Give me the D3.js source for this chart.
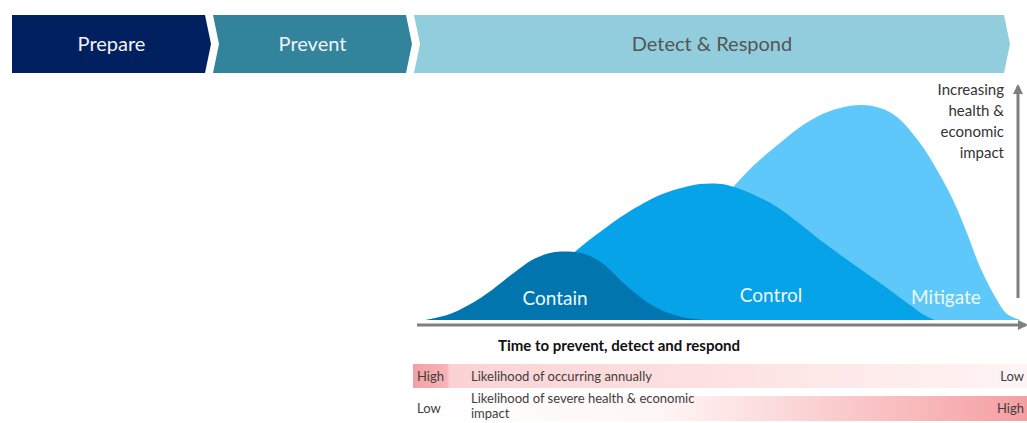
<!DOCTYPE html>
<html>
<head>
<meta charset="utf-8">
<script src="https://cdn.jsdelivr.net/npm/d3@7"></script>
<style>
  body { margin: 0; background: #fff; }
  svg { display: block; font-family: Lato, "Open Sans", sans-serif; }
</style>
</head>
<body>
<div id="chart"></div>
<script>
// phases along the top (time units)
const phases = ["Prepare", "Prevent", "Detect & Respond"];
const phaseStart = [0, 20.1, 40.2];
const phaseEnd = [19.9, 40, 99.8];

// curves: time / impact
const containT = [41.3, 43.8, 47, 50.3, 52, 53.8, 55.6, 57.3, 59, 61.6, 64.3, 67, 69.3];
const containV = [0, 0.6, 2.3, 4.8, 6, 6.7, 6.85, 6.6, 5.7, 3.3, 1.3, 0.3, 0];
const controlT = [44.8, 48.8, 52.8, 56.5, 58.8, 61.5, 64.8, 67.3, 68.8, 70.3, 71.5, 73.8, 76.5, 78.8, 80.8, 84.1, 87.5, 89.8, 91.2, 92.3];
const controlV = [0, 1, 3.5, 7, 8.8, 10.7, 12.5, 13.3, 13.6, 13.65, 13.5, 12.7, 11.3, 9.6, 8, 5.6, 3.2, 1.5, 0.5, 0];
const mitigateT = [60.8, 64.8, 68.8, 72.1, 74.1, 76.8, 79.1, 81.8, 84.8, 86.8, 88.5, 90.8, 92.5, 94.1, 95.5, 96.8, 98.5, 99.5, 100.8];
const mitigateV = [0, 3, 10.2, 13.3, 15.4, 17.7, 19.5, 20.9, 21.5, 21.2, 20.3, 17.7, 15, 12, 8.7, 5.3, 2, 0.6, 0];

const curveNames = ["Mitigate", "Control", "Contain"];
const labelT = [93.4, 75.9, 54.3];
const labelV = [1.6, 1.8, 1.5];

const rowLeft = ["High", "Low"];
const rowRight = ["Low", "High"];
const rowText = [["Likelihood of occurring annually"], ["Likelihood of severe health & economic", "impact"]];

const W = 1027, H = 423;

const svg = d3.select("#chart")
  .append("svg")
  .attr("width", W)
  .attr("height", H);

const x = d3.scaleLinear().domain([0, 100]).range([12, 1012]);
const y = d3.scaleLinear().domain([0, 22]).range([320, 100]);

const defs = svg.append("defs");

// chevrons
const phaseFill = ["#002060", "#31849B", "#92CDDD"];
const phaseText = ["#f2f2f2", "#f2f2f2", "#555"];
const cy0 = 15, cy1 = 73, cym = (cy0 + cy1) / 2, dep = 6;

phases.forEach((p, i) => {
  const x0 = x(phaseStart[i]), x1 = x(phaseEnd[i]);
  const pts = [[x0, cy0], [x1 - dep, cy0], [x1, cym], [x1 - dep, cy1], [x0, cy1]];
  if (i > 0) pts.push([x0 + dep, cym]);
  svg.append("path")
    .attr("d", "M" + pts.join("L") + "Z")
    .attr("fill", phaseFill[i]);
  svg.append("text")
    .attr("x", (x0 + x1) / 2)
    .attr("y", cym + 7)
    .attr("text-anchor", "middle")
    .attr("font-size", 20)
    .attr("fill", phaseText[i])
    .text(p);
});

// curves
const area = d3.area()
  .x(d => x(d[0]))
  .y0(y(0))
  .y1(d => y(d[1]))
  .curve(d3.curveCatmullRom.alpha(0.5));

const curveData = [
  d3.zip(mitigateT, mitigateV),
  d3.zip(controlT, controlV),
  d3.zip(containT, containV)
];
const curveFill = ["#5DC8F9", "#06A3E8", "#0176AE"];

curveData.forEach((c, i) => {
  svg.append("path")
    .attr("d", area(c))
    .attr("fill", curveFill[i]);
});

curveNames.forEach((n, i) => {
  svg.append("text")
    .attr("x", x(labelT[i]))
    .attr("y", y(labelV[i]))
    .attr("text-anchor", "middle")
    .attr("font-size", 19)
    .attr("fill", "#eef8fd")
    .text(n);
});

// axes with arrows
defs.append("marker")
  .attr("id", "arrow")
  .attr("viewBox", "0 0 10 10")
  .attr("refX", 8)
  .attr("refY", 5)
  .attr("markerWidth", 3.4)
  .attr("markerHeight", 3.4)
  .attr("orient", "auto")
  .append("path")
  .attr("d", "M0,0L10,5L0,10Z")
  .attr("fill", "#7f7f7f");

svg.append("line")
  .attr("x1", 417)
  .attr("y1", y(0) + 5)
  .attr("x2", 1026)
  .attr("y2", y(0) + 5)
  .attr("stroke", "#7f7f7f")
  .attr("stroke-width", 3)
  .attr("marker-end", "url(#arrow)");

svg.append("line")
  .attr("x1", 1018)
  .attr("y1", y(2.2))
  .attr("x2", 1018)
  .attr("y2", 86)
  .attr("stroke", "#7f7f7f")
  .attr("stroke-width", 3)
  .attr("marker-end", "url(#arrow)");

const yTitle = svg.append("text")
  .attr("text-anchor", "end")
  .attr("font-size", 15)
  .attr("fill", "#333");
["Increasing", "health &", "economic", "impact"].forEach((t, i) => {
  yTitle.append("tspan")
    .attr("x", 1004)
    .attr("y", 95 + i * 21)
    .text(t);
});

svg.append("text")
  .attr("x", 498)
  .attr("y", 351)
  .attr("font-size", 15)
  .attr("font-weight", 700)
  .attr("fill", "#111")
  .text("Time to prevent, detect and respond");

// likelihood bands
const g1 = defs.append("linearGradient").attr("id", "band1");
g1.append("stop").attr("offset", "0%").attr("stop-color", "#f4a0a3");
g1.append("stop").attr("offset", "5.5%").attr("stop-color", "#f6b4b6");
g1.append("stop").attr("offset", "6%").attr("stop-color", "#fbd2d3");
g1.append("stop").attr("offset", "100%").attr("stop-color", "#fff4f4");

const g2 = defs.append("linearGradient").attr("id", "band2");
g2.append("stop").attr("offset", "0%").attr("stop-color", "#ffffff");
g2.append("stop").attr("offset", "40%").attr("stop-color", "#fff6f6");
g2.append("stop").attr("offset", "100%").attr("stop-color", "#f59fa2");

const bandY = [364, 396];
const bandH = [24, 25];

bandY.forEach((by, i) => {
  svg.append("rect")
    .attr("x", 413)
    .attr("y", by)
    .attr("width", W - 413)
    .attr("height", bandH[i])
    .attr("fill", "url(#band" + (i + 1) + ")");
  svg.append("text")
    .attr("x", 417)
    .attr("y", by + 17)
    .attr("font-size", 13)
    .attr("fill", "#404040")
    .text(rowLeft[i]);
  svg.append("text")
    .attr("x", 1024)
    .attr("y", by + 17)
    .attr("text-anchor", "end")
    .attr("font-size", 13)
    .attr("fill", "#404040")
    .text(rowRight[i]);
  rowText[i].forEach((t, j) => {
    svg.append("text")
      .attr("x", 471)
      .attr("y", (rowText[i].length > 1 ? by + 7 : by + 17) + j * 15)
      .attr("font-size", 13)
      .attr("fill", "#404040")
      .text(t);
  });
});
</script>
</body>
</html>
